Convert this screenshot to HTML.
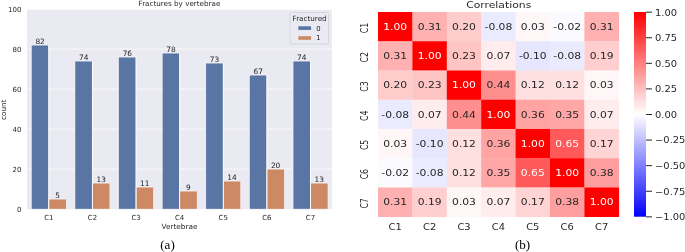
<!DOCTYPE html><html><head><meta charset="utf-8"><title>Figure</title><style>html,body{margin:0;padding:0;background:#fff}svg{display:block}text{font-family:"DejaVu Sans","Liberation Sans",sans-serif}.s{font-family:"Liberation Serif","DejaVu Serif",serif}</style></head><body>
<svg width="685" height="252" viewBox="0 0 685 252" fill="#262626">
<rect width="685" height="252" fill="#fff"/>
<rect x="27.0" y="9.8" width="304.9" height="199.29999999999998" fill="#eaeaf2"/>
<line x1="27.0" x2="331.9" y1="169.10" y2="169.10" stroke="#fff" stroke-width="0.7"/>
<line x1="27.0" x2="331.9" y1="129.10" y2="129.10" stroke="#fff" stroke-width="0.7"/>
<line x1="27.0" x2="331.9" y1="89.10" y2="89.10" stroke="#fff" stroke-width="0.7"/>
<line x1="27.0" x2="331.9" y1="49.10" y2="49.10" stroke="#fff" stroke-width="0.7"/>
<text x="21.40" y="211.65" font-size="7.0" text-anchor="end">0</text>
<text x="21.40" y="171.65" font-size="7.0" text-anchor="end">20</text>
<text x="21.40" y="131.65" font-size="7.0" text-anchor="end">40</text>
<text x="21.40" y="91.65" font-size="7.0" text-anchor="end">60</text>
<text x="21.40" y="51.65" font-size="7.0" text-anchor="end">80</text>
<text x="21.40" y="11.65" font-size="7.0" text-anchor="end">100</text>
<rect x="31.36" y="45.10" width="17.45" height="164.00" fill="#5975a4" stroke="#fff" stroke-width="0.5"/>
<rect x="48.81" y="199.10" width="17.45" height="10.00" fill="#cc8963" stroke="#fff" stroke-width="0.5"/>
<line x1="48.81" x2="48.81" y1="45.10" y2="209.1" stroke="#fff" stroke-width="0.9"/>
<text x="40.09" y="43.60" font-size="7.4" text-anchor="middle">82</text>
<text x="57.53" y="197.60" font-size="7.4" text-anchor="middle">5</text>
<text x="48.81" y="220.00" font-size="7.0" text-anchor="middle">C1</text>
<rect x="74.98" y="61.10" width="17.45" height="148.00" fill="#5975a4" stroke="#fff" stroke-width="0.5"/>
<rect x="92.43" y="183.10" width="17.45" height="26.00" fill="#cc8963" stroke="#fff" stroke-width="0.5"/>
<line x1="92.43" x2="92.43" y1="61.10" y2="209.1" stroke="#fff" stroke-width="0.9"/>
<text x="83.71" y="59.60" font-size="7.4" text-anchor="middle">74</text>
<text x="101.15" y="181.60" font-size="7.4" text-anchor="middle">13</text>
<text x="92.43" y="220.00" font-size="7.0" text-anchor="middle">C2</text>
<rect x="118.60" y="57.10" width="17.45" height="152.00" fill="#5975a4" stroke="#fff" stroke-width="0.5"/>
<rect x="136.05" y="187.10" width="17.45" height="22.00" fill="#cc8963" stroke="#fff" stroke-width="0.5"/>
<line x1="136.05" x2="136.05" y1="57.10" y2="209.1" stroke="#fff" stroke-width="0.9"/>
<text x="127.33" y="55.60" font-size="7.4" text-anchor="middle">76</text>
<text x="144.77" y="185.60" font-size="7.4" text-anchor="middle">11</text>
<text x="136.05" y="220.00" font-size="7.0" text-anchor="middle">C3</text>
<rect x="162.22" y="53.10" width="17.45" height="156.00" fill="#5975a4" stroke="#fff" stroke-width="0.5"/>
<rect x="179.67" y="191.10" width="17.45" height="18.00" fill="#cc8963" stroke="#fff" stroke-width="0.5"/>
<line x1="179.67" x2="179.67" y1="53.10" y2="209.1" stroke="#fff" stroke-width="0.9"/>
<text x="170.95" y="51.60" font-size="7.4" text-anchor="middle">78</text>
<text x="188.39" y="189.60" font-size="7.4" text-anchor="middle">9</text>
<text x="179.67" y="220.00" font-size="7.0" text-anchor="middle">C4</text>
<rect x="205.84" y="63.10" width="17.45" height="146.00" fill="#5975a4" stroke="#fff" stroke-width="0.5"/>
<rect x="223.29" y="181.10" width="17.45" height="28.00" fill="#cc8963" stroke="#fff" stroke-width="0.5"/>
<line x1="223.29" x2="223.29" y1="63.10" y2="209.1" stroke="#fff" stroke-width="0.9"/>
<text x="214.57" y="61.60" font-size="7.4" text-anchor="middle">73</text>
<text x="232.01" y="179.60" font-size="7.4" text-anchor="middle">14</text>
<text x="223.29" y="220.00" font-size="7.0" text-anchor="middle">C5</text>
<rect x="249.46" y="75.10" width="17.45" height="134.00" fill="#5975a4" stroke="#fff" stroke-width="0.5"/>
<rect x="266.91" y="169.10" width="17.45" height="40.00" fill="#cc8963" stroke="#fff" stroke-width="0.5"/>
<line x1="266.91" x2="266.91" y1="75.10" y2="209.1" stroke="#fff" stroke-width="0.9"/>
<text x="258.19" y="73.60" font-size="7.4" text-anchor="middle">67</text>
<text x="275.63" y="167.60" font-size="7.4" text-anchor="middle">20</text>
<text x="266.91" y="220.00" font-size="7.0" text-anchor="middle">C6</text>
<rect x="293.08" y="61.10" width="17.45" height="148.00" fill="#5975a4" stroke="#fff" stroke-width="0.5"/>
<rect x="310.53" y="183.10" width="17.45" height="26.00" fill="#cc8963" stroke="#fff" stroke-width="0.5"/>
<line x1="310.53" x2="310.53" y1="61.10" y2="209.1" stroke="#fff" stroke-width="0.9"/>
<text x="301.81" y="59.60" font-size="7.4" text-anchor="middle">74</text>
<text x="319.25" y="181.60" font-size="7.4" text-anchor="middle">13</text>
<text x="310.53" y="220.00" font-size="7.0" text-anchor="middle">C7</text>
<text x="179.45" y="5.7" font-size="7.2" text-anchor="middle">Fractures by vertebrae</text>
<text x="179.45" y="229.10" font-size="7.3" text-anchor="middle">Vertebrae</text>
<text transform="translate(5.8,109.75) rotate(-90)" font-size="7.2" text-anchor="middle">count</text>
<rect x="290" y="12.5" width="38.5" height="31.5" rx="1.2" fill="#eaeaf2" stroke="#cdcdd5" stroke-width="0.7"/>
<text x="309.6" y="20.7" font-size="7.2" text-anchor="middle">Fractured</text>
<rect x="298.3" y="26.3" width="12.8" height="3.6" fill="#5975a4"/>
<rect x="298.3" y="36.2" width="12.8" height="3.6" fill="#cc8963"/>
<text x="316.3" y="30.6" font-size="6.8">0</text>
<text x="316.3" y="40.4" font-size="6.8">1</text>
<text class="s" fill="#000" x="167.5" y="249.4" font-size="13" text-anchor="middle">(a)</text>
<rect x="378.00" y="12.00" width="34.70" height="29.54" fill="#ff0000"/>
<rect x="412.40" y="12.00" width="34.70" height="29.54" fill="#ffb0b0"/>
<rect x="446.80" y="12.00" width="34.70" height="29.54" fill="#ffcccc"/>
<rect x="481.20" y="12.00" width="34.70" height="29.54" fill="#ebebff"/>
<rect x="515.60" y="12.00" width="34.70" height="29.54" fill="#fff7f7"/>
<rect x="550.00" y="12.00" width="34.70" height="29.54" fill="#fafaff"/>
<rect x="584.40" y="12.00" width="34.70" height="29.54" fill="#ffb0b0"/>
<rect x="378.00" y="41.24" width="34.70" height="29.54" fill="#ffb0b0"/>
<rect x="412.40" y="41.24" width="34.70" height="29.54" fill="#ff0000"/>
<rect x="446.80" y="41.24" width="34.70" height="29.54" fill="#ffc4c4"/>
<rect x="481.20" y="41.24" width="34.70" height="29.54" fill="#ffeded"/>
<rect x="515.60" y="41.24" width="34.70" height="29.54" fill="#e6e6ff"/>
<rect x="550.00" y="41.24" width="34.70" height="29.54" fill="#ebebff"/>
<rect x="584.40" y="41.24" width="34.70" height="29.54" fill="#ffcfcf"/>
<rect x="378.00" y="70.49" width="34.70" height="29.54" fill="#ffcccc"/>
<rect x="412.40" y="70.49" width="34.70" height="29.54" fill="#ffc4c4"/>
<rect x="446.80" y="70.49" width="34.70" height="29.54" fill="#ff0000"/>
<rect x="481.20" y="70.49" width="34.70" height="29.54" fill="#ff8f8f"/>
<rect x="515.60" y="70.49" width="34.70" height="29.54" fill="#ffe0e0"/>
<rect x="550.00" y="70.49" width="34.70" height="29.54" fill="#ffe0e0"/>
<rect x="584.40" y="70.49" width="34.70" height="29.54" fill="#fff7f7"/>
<rect x="378.00" y="99.73" width="34.70" height="29.54" fill="#ebebff"/>
<rect x="412.40" y="99.73" width="34.70" height="29.54" fill="#ffeded"/>
<rect x="446.80" y="99.73" width="34.70" height="29.54" fill="#ff8f8f"/>
<rect x="481.20" y="99.73" width="34.70" height="29.54" fill="#ff0000"/>
<rect x="515.60" y="99.73" width="34.70" height="29.54" fill="#ffa3a3"/>
<rect x="550.00" y="99.73" width="34.70" height="29.54" fill="#ffa6a6"/>
<rect x="584.40" y="99.73" width="34.70" height="29.54" fill="#ffeded"/>
<rect x="378.00" y="128.97" width="34.70" height="29.54" fill="#fff7f7"/>
<rect x="412.40" y="128.97" width="34.70" height="29.54" fill="#e6e6ff"/>
<rect x="446.80" y="128.97" width="34.70" height="29.54" fill="#ffe0e0"/>
<rect x="481.20" y="128.97" width="34.70" height="29.54" fill="#ffa3a3"/>
<rect x="515.60" y="128.97" width="34.70" height="29.54" fill="#ff0000"/>
<rect x="550.00" y="128.97" width="34.70" height="29.54" fill="#ff5959"/>
<rect x="584.40" y="128.97" width="34.70" height="29.54" fill="#ffd4d4"/>
<rect x="378.00" y="158.21" width="34.70" height="29.54" fill="#fafaff"/>
<rect x="412.40" y="158.21" width="34.70" height="29.54" fill="#ebebff"/>
<rect x="446.80" y="158.21" width="34.70" height="29.54" fill="#ffe0e0"/>
<rect x="481.20" y="158.21" width="34.70" height="29.54" fill="#ffa6a6"/>
<rect x="515.60" y="158.21" width="34.70" height="29.54" fill="#ff5959"/>
<rect x="550.00" y="158.21" width="34.70" height="29.54" fill="#ff0000"/>
<rect x="584.40" y="158.21" width="34.70" height="29.54" fill="#ff9e9e"/>
<rect x="378.00" y="187.46" width="34.70" height="29.54" fill="#ffb0b0"/>
<rect x="412.40" y="187.46" width="34.70" height="29.54" fill="#ffcfcf"/>
<rect x="446.80" y="187.46" width="34.70" height="29.54" fill="#fff7f7"/>
<rect x="481.20" y="187.46" width="34.70" height="29.54" fill="#ffeded"/>
<rect x="515.60" y="187.46" width="34.70" height="29.54" fill="#ffd4d4"/>
<rect x="550.00" y="187.46" width="34.70" height="29.54" fill="#ff9e9e"/>
<rect x="584.40" y="187.46" width="34.70" height="29.54" fill="#ff0000"/>
<text transform="translate(395.20,29.82) scale(1.18,1)" font-size="9.1" text-anchor="middle" fill="#fff">1.00</text>
<text transform="translate(429.60,29.82) scale(1.18,1)" font-size="9.1" text-anchor="middle" fill="#262626">0.31</text>
<text transform="translate(464.00,29.82) scale(1.18,1)" font-size="9.1" text-anchor="middle" fill="#262626">0.20</text>
<text transform="translate(498.40,29.82) scale(1.18,1)" font-size="9.1" text-anchor="middle" fill="#262626">-0.08</text>
<text transform="translate(532.80,29.82) scale(1.18,1)" font-size="9.1" text-anchor="middle" fill="#262626">0.03</text>
<text transform="translate(567.20,29.82) scale(1.18,1)" font-size="9.1" text-anchor="middle" fill="#262626">-0.02</text>
<text transform="translate(601.60,29.82) scale(1.18,1)" font-size="9.1" text-anchor="middle" fill="#262626">0.31</text>
<text transform="translate(395.20,59.06) scale(1.18,1)" font-size="9.1" text-anchor="middle" fill="#262626">0.31</text>
<text transform="translate(429.60,59.06) scale(1.18,1)" font-size="9.1" text-anchor="middle" fill="#fff">1.00</text>
<text transform="translate(464.00,59.06) scale(1.18,1)" font-size="9.1" text-anchor="middle" fill="#262626">0.23</text>
<text transform="translate(498.40,59.06) scale(1.18,1)" font-size="9.1" text-anchor="middle" fill="#262626">0.07</text>
<text transform="translate(532.80,59.06) scale(1.18,1)" font-size="9.1" text-anchor="middle" fill="#262626">-0.10</text>
<text transform="translate(567.20,59.06) scale(1.18,1)" font-size="9.1" text-anchor="middle" fill="#262626">-0.08</text>
<text transform="translate(601.60,59.06) scale(1.18,1)" font-size="9.1" text-anchor="middle" fill="#262626">0.19</text>
<text transform="translate(395.20,88.31) scale(1.18,1)" font-size="9.1" text-anchor="middle" fill="#262626">0.20</text>
<text transform="translate(429.60,88.31) scale(1.18,1)" font-size="9.1" text-anchor="middle" fill="#262626">0.23</text>
<text transform="translate(464.00,88.31) scale(1.18,1)" font-size="9.1" text-anchor="middle" fill="#fff">1.00</text>
<text transform="translate(498.40,88.31) scale(1.18,1)" font-size="9.1" text-anchor="middle" fill="#262626">0.44</text>
<text transform="translate(532.80,88.31) scale(1.18,1)" font-size="9.1" text-anchor="middle" fill="#262626">0.12</text>
<text transform="translate(567.20,88.31) scale(1.18,1)" font-size="9.1" text-anchor="middle" fill="#262626">0.12</text>
<text transform="translate(601.60,88.31) scale(1.18,1)" font-size="9.1" text-anchor="middle" fill="#262626">0.03</text>
<text transform="translate(395.20,117.55) scale(1.18,1)" font-size="9.1" text-anchor="middle" fill="#262626">-0.08</text>
<text transform="translate(429.60,117.55) scale(1.18,1)" font-size="9.1" text-anchor="middle" fill="#262626">0.07</text>
<text transform="translate(464.00,117.55) scale(1.18,1)" font-size="9.1" text-anchor="middle" fill="#262626">0.44</text>
<text transform="translate(498.40,117.55) scale(1.18,1)" font-size="9.1" text-anchor="middle" fill="#fff">1.00</text>
<text transform="translate(532.80,117.55) scale(1.18,1)" font-size="9.1" text-anchor="middle" fill="#262626">0.36</text>
<text transform="translate(567.20,117.55) scale(1.18,1)" font-size="9.1" text-anchor="middle" fill="#262626">0.35</text>
<text transform="translate(601.60,117.55) scale(1.18,1)" font-size="9.1" text-anchor="middle" fill="#262626">0.07</text>
<text transform="translate(395.20,146.79) scale(1.18,1)" font-size="9.1" text-anchor="middle" fill="#262626">0.03</text>
<text transform="translate(429.60,146.79) scale(1.18,1)" font-size="9.1" text-anchor="middle" fill="#262626">-0.10</text>
<text transform="translate(464.00,146.79) scale(1.18,1)" font-size="9.1" text-anchor="middle" fill="#262626">0.12</text>
<text transform="translate(498.40,146.79) scale(1.18,1)" font-size="9.1" text-anchor="middle" fill="#262626">0.36</text>
<text transform="translate(532.80,146.79) scale(1.18,1)" font-size="9.1" text-anchor="middle" fill="#fff">1.00</text>
<text transform="translate(567.20,146.79) scale(1.18,1)" font-size="9.1" text-anchor="middle" fill="#fff">0.65</text>
<text transform="translate(601.60,146.79) scale(1.18,1)" font-size="9.1" text-anchor="middle" fill="#262626">0.17</text>
<text transform="translate(395.20,176.04) scale(1.18,1)" font-size="9.1" text-anchor="middle" fill="#262626">-0.02</text>
<text transform="translate(429.60,176.04) scale(1.18,1)" font-size="9.1" text-anchor="middle" fill="#262626">-0.08</text>
<text transform="translate(464.00,176.04) scale(1.18,1)" font-size="9.1" text-anchor="middle" fill="#262626">0.12</text>
<text transform="translate(498.40,176.04) scale(1.18,1)" font-size="9.1" text-anchor="middle" fill="#262626">0.35</text>
<text transform="translate(532.80,176.04) scale(1.18,1)" font-size="9.1" text-anchor="middle" fill="#fff">0.65</text>
<text transform="translate(567.20,176.04) scale(1.18,1)" font-size="9.1" text-anchor="middle" fill="#fff">1.00</text>
<text transform="translate(601.60,176.04) scale(1.18,1)" font-size="9.1" text-anchor="middle" fill="#262626">0.38</text>
<text transform="translate(395.20,205.28) scale(1.18,1)" font-size="9.1" text-anchor="middle" fill="#262626">0.31</text>
<text transform="translate(429.60,205.28) scale(1.18,1)" font-size="9.1" text-anchor="middle" fill="#262626">0.19</text>
<text transform="translate(464.00,205.28) scale(1.18,1)" font-size="9.1" text-anchor="middle" fill="#262626">0.03</text>
<text transform="translate(498.40,205.28) scale(1.18,1)" font-size="9.1" text-anchor="middle" fill="#262626">0.07</text>
<text transform="translate(532.80,205.28) scale(1.18,1)" font-size="9.1" text-anchor="middle" fill="#262626">0.17</text>
<text transform="translate(567.20,205.28) scale(1.18,1)" font-size="9.1" text-anchor="middle" fill="#262626">0.38</text>
<text transform="translate(601.60,205.28) scale(1.18,1)" font-size="9.1" text-anchor="middle" fill="#fff">1.00</text>
<text transform="translate(395.20,230.20) scale(1.13,1)" font-size="8.8" text-anchor="middle">C1</text>
<text transform="translate(367.70,27.92) rotate(-90) scale(1,1.23)" font-size="7.85" text-anchor="middle">C1</text>
<text transform="translate(429.60,230.20) scale(1.13,1)" font-size="8.8" text-anchor="middle">C2</text>
<text transform="translate(367.70,57.16) rotate(-90) scale(1,1.23)" font-size="7.85" text-anchor="middle">C2</text>
<text transform="translate(464.00,230.20) scale(1.13,1)" font-size="8.8" text-anchor="middle">C3</text>
<text transform="translate(367.70,86.41) rotate(-90) scale(1,1.23)" font-size="7.85" text-anchor="middle">C3</text>
<text transform="translate(498.40,230.20) scale(1.13,1)" font-size="8.8" text-anchor="middle">C4</text>
<text transform="translate(367.70,115.65) rotate(-90) scale(1,1.23)" font-size="7.85" text-anchor="middle">C4</text>
<text transform="translate(532.80,230.20) scale(1.13,1)" font-size="8.8" text-anchor="middle">C5</text>
<text transform="translate(367.70,144.89) rotate(-90) scale(1,1.23)" font-size="7.85" text-anchor="middle">C5</text>
<text transform="translate(567.20,230.20) scale(1.13,1)" font-size="8.8" text-anchor="middle">C6</text>
<text transform="translate(367.70,174.14) rotate(-90) scale(1,1.23)" font-size="7.85" text-anchor="middle">C6</text>
<text transform="translate(601.60,230.20) scale(1.13,1)" font-size="8.8" text-anchor="middle">C7</text>
<text transform="translate(367.70,203.38) rotate(-90) scale(1,1.23)" font-size="7.85" text-anchor="middle">C7</text>
<text transform="translate(498.70,8.0) scale(1.18,1)" font-size="9.15" text-anchor="middle">Correlations</text>
<defs><linearGradient id="g" x1="0" y1="0" x2="0" y2="1"><stop offset="0" stop-color="#ff0000"/><stop offset="0.5" stop-color="#ffffff"/><stop offset="1" stop-color="#0000ff"/></linearGradient></defs>
<rect x="634.0" y="12.0" width="12.0" height="204.7" fill="url(#g)"/>
<line x1="646.0" x2="652.0" y1="12.15" y2="12.15" stroke="#262626" stroke-width="1"/>
<text transform="translate(655.00,15.55) scale(1.13,1)" font-size="8.8">1.00</text>
<line x1="646.0" x2="652.0" y1="37.74" y2="37.74" stroke="#262626" stroke-width="1"/>
<text transform="translate(655.00,41.14) scale(1.13,1)" font-size="8.8">0.75</text>
<line x1="646.0" x2="652.0" y1="63.32" y2="63.32" stroke="#262626" stroke-width="1"/>
<text transform="translate(655.00,66.72) scale(1.13,1)" font-size="8.8">0.50</text>
<line x1="646.0" x2="652.0" y1="88.91" y2="88.91" stroke="#262626" stroke-width="1"/>
<text transform="translate(655.00,92.31) scale(1.13,1)" font-size="8.8">0.25</text>
<line x1="646.0" x2="652.0" y1="114.50" y2="114.50" stroke="#262626" stroke-width="1"/>
<text transform="translate(655.00,117.90) scale(1.13,1)" font-size="8.8">0.00</text>
<line x1="646.0" x2="652.0" y1="140.09" y2="140.09" stroke="#262626" stroke-width="1"/>
<text transform="translate(655.00,143.49) scale(1.13,1)" font-size="8.8">−0.25</text>
<line x1="646.0" x2="652.0" y1="165.67" y2="165.67" stroke="#262626" stroke-width="1"/>
<text transform="translate(655.00,169.07) scale(1.13,1)" font-size="8.8">−0.50</text>
<line x1="646.0" x2="652.0" y1="191.26" y2="191.26" stroke="#262626" stroke-width="1"/>
<text transform="translate(655.00,194.66) scale(1.13,1)" font-size="8.8">−0.75</text>
<line x1="646.0" x2="652.0" y1="216.85" y2="216.85" stroke="#262626" stroke-width="1"/>
<text transform="translate(655.00,220.25) scale(1.13,1)" font-size="8.8">−1.00</text>
<text class="s" fill="#000" x="522.6" y="249" font-size="13" text-anchor="middle">(b)</text>
</svg></body></html>
